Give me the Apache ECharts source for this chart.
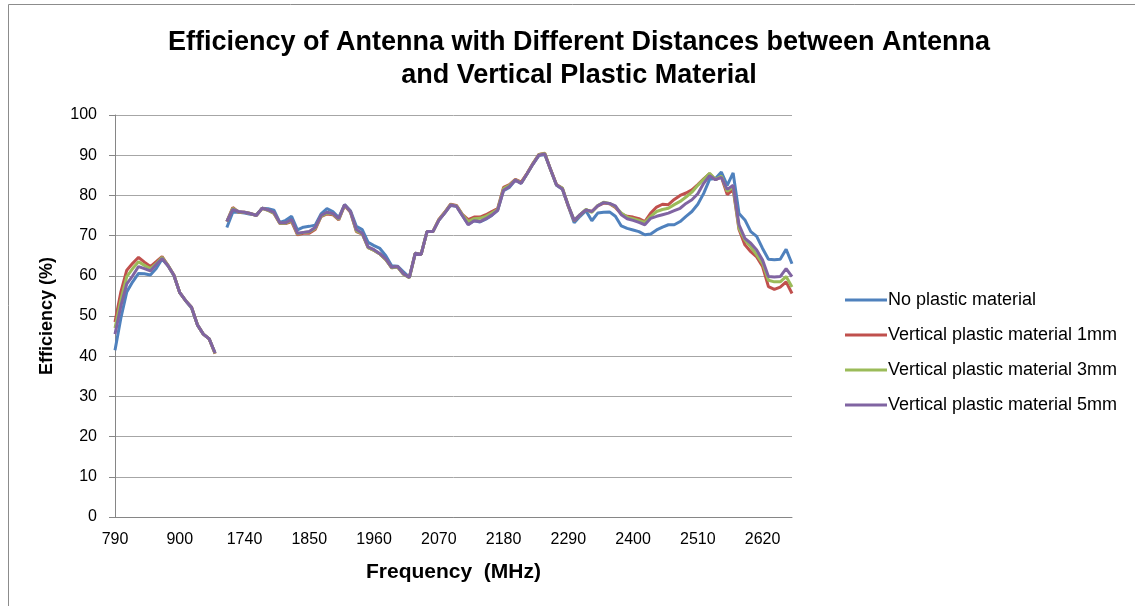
<!DOCTYPE html>
<html>
<head>
<meta charset="utf-8">
<script src="https://cdn.jsdelivr.net/npm/echarts@6/dist/echarts.min.js"></script>
<style>
  html, body { margin: 0; padding: 0; background: #fff; }
  #chart { width: 1135px; height: 606px; }
</style>
</head>
<body>
<div id="chart"></div>
<script>
// frequency categories (MHz); the empty one is the break between bands
const frequencies = [
    '790', '800', '810', '820', '830', '840', '850', '860', '870', '880', '890', '900',
    '910', '920', '930', '940', '950', '960', '',
    '1710', '1720', '1730', '1740', '1750', '1760', '1770', '1780', '1790', '1800',
    '1810', '1820', '1830', '1840', '1850', '1860', '1870', '1880', '1890', '1900',
    '1910', '1920', '1930', '1940', '1950', '1960', '1970', '1980', '1990', '2000',
    '2010', '2020', '2030', '2040', '2050', '2060', '2070', '2080', '2090', '2100',
    '2110', '2120', '2130', '2140', '2150', '2160', '2170', '2180', '2190', '2200',
    '2210', '2220', '2230', '2240', '2250', '2260', '2270', '2280', '2290', '2300',
    '2310', '2320', '2330', '2340', '2350', '2360', '2370', '2380', '2390', '2400',
    '2410', '2420', '2430', '2440', '2450', '2460', '2470', '2480', '2490', '2500',
    '2510', '2520', '2530', '2540', '2550', '2560', '2570', '2580', '2590', '2600',
    '2610', '2620', '2630', '2640', '2650', '2660', '2670'
];

const noPlastic = [
    41.5, 49.5, 56, 58.5, 60.6, 60.5, 60.2, 61.8, 64.2, 62.5, 60, 55.8,
    53.8, 52, 47.8, 45.5, 44.3, 40.8, null,
    72, 75.8, 75.8, 75.6, 75.3, 75.2, 76.8, 76.7, 76.3, 73.3,
    73.8, 74.8, 71.4, 72.1, 72.3, 72.6, 75.4, 76.7, 76, 74.5,
    77.7, 76.2, 72.3, 71.5, 68.3, 67.5, 66.8, 65, 62.5, 62.4,
    61, 59.6, 65.6, 65.3, 71, 71, 73.8, 75.6, 77.5, 77.3,
    75, 72.8, 73.7, 73.4, 74.1, 75, 76.3, 81.2, 82, 83.8,
    83, 85.4, 87.8, 89.9, 90.2, 86.4, 82.5, 81.5, 77.3, 73.2,
    74.8, 76.2, 73.7, 75.6, 75.8, 75.9, 74.8, 72.4, 71.8, 71.4,
    71, 70.2, 70.4, 71.4, 72.1, 72.7, 72.7, 73.5, 74.8, 76,
    77.8, 80.5, 84, 84.2, 85.8, 82.5, 85.6, 75.5, 73.9, 71,
    69.8, 66.8, 64.1, 64, 64.1, 66.6, 63
];

const plastic1mm = [
    48.5, 56, 61.4, 63.1, 64.6, 63.4, 62.3, 63.5, 64.8, 62.6, 60.2, 55.8,
    53.8, 52.2, 47.8, 45.5, 44.3, 40.6, null,
    73.5, 77, 75.8, 75.8, 75.5, 75, 76.8, 76.3, 75.5, 73,
    73, 73.5, 70.2, 70.6, 70.6, 71.5, 74.7, 75.4, 75.2, 73.9,
    77.5, 75.8, 71, 70.4, 67, 66.3, 65.4, 64, 62, 62.2,
    60.4, 59.6, 65.6, 65.3, 71, 71, 74, 75.8, 77.8, 77.5,
    75.3, 74, 74.6, 74.6, 75.2, 76, 76.7, 82, 82.7, 84,
    83.3, 85.5, 88, 90.2, 90.5, 86.4, 82.7, 81.8, 77.3, 73.7,
    75.2, 76.4, 76, 77.4, 78.1, 77.9, 77, 75.4, 74.8, 74.6,
    74.2, 73.5, 75.6, 77.1, 77.8, 77.7, 79, 80, 80.6, 81.4,
    82.7, 84.1, 85.4, 83.9, 84.6, 80.2, 81.5, 71.5, 67.7, 66,
    64.7, 62.3, 57.3, 56.6, 57.2, 58.5, 55.6
];

const plastic3mm = [
    47, 54, 59.8, 61.8, 63.5, 62.6, 61.8, 63, 64.6, 62.6, 60.2, 55.8,
    53.8, 52.2, 47.8, 45.5, 44.3, 40.7, null,
    73.5, 76.8, 75.9, 75.8, 75.5, 75, 76.8, 76.3, 75.6, 73.1,
    73.1, 73.8, 70.4, 70.8, 70.9, 71.8, 74.8, 75.6, 75.4, 74,
    77.6, 75.9, 71.2, 70.5, 67, 66.3, 65.4, 64, 62, 62.2,
    60.4, 59.5, 65.6, 65.3, 71, 71, 73.9, 75.7, 77.7, 77.4,
    75.2, 73.5, 74.2, 74.3, 74.8, 75.6, 76.5, 81.7, 82.5, 83.9,
    83.1, 85.4, 87.9, 90.1, 90.4, 86.4, 82.6, 81.8, 77.5, 73.8,
    75.2, 76.5, 75.8, 77.5, 78.3, 78, 77.2, 75.6, 74.6, 74.2,
    73.8, 73.3, 74.8, 76, 76.5, 76.8, 77.7, 78.5, 79.6, 80.8,
    82.5, 84, 85.5, 84, 84.8, 81, 82, 71.8, 68.9, 67.2,
    65.2, 63.1, 58.9, 58.5, 58.5, 59.8, 57.2
];

const plastic5mm = [
    45.5, 52.5, 58, 60, 62.3, 61.8, 61.2, 62.8, 64.3, 62.5, 60.2, 55.8,
    53.8, 52.2, 47.8, 45.5, 44.3, 40.8, null,
    73.5, 76.5, 76, 75.8, 75.5, 75, 76.8, 76.4, 75.8, 73.2,
    73.2, 74, 70.6, 70.8, 71, 72, 75, 75.8, 75.5, 74.2,
    77.7, 76, 71.5, 70.6, 67.2, 66.5, 65.5, 64.2, 62.1, 62.3,
    60.5, 59.6, 65.6, 65.3, 71, 71, 73.8, 75.6, 77.6, 77.3,
    75, 72.7, 73.7, 73.5, 74.2, 75.1, 76.3, 81.3, 82.2, 83.8,
    83, 85.4, 87.8, 90, 90.3, 86.4, 82.6, 81.6, 77.5, 73.8,
    75.2, 76.4, 76, 77.4, 78.2, 78, 77.4, 75.2, 74.2, 73.8,
    73.3, 72.7, 74.3, 74.8, 75.2, 75.6, 76.2, 76.8, 78, 78.9,
    80.4, 83, 84.9, 83.9, 84.5, 81.5, 82.5, 72.7, 69.3, 68.1,
    66.4, 63.9, 59.8, 59.7, 59.8, 61.8, 59.8
];

const seriesNames = [
    'No plastic material',
    'Vertical plastic material 1mm',
    'Vertical plastic material 3mm',
    'Vertical plastic material 5mm'
];
const seriesData = [noPlastic, plastic1mm, plastic3mm, plastic5mm];
const seriesColors = ['#4F81BD', '#C0504D', '#9BBB59', '#8064A2'];

const font = '"Liberation Sans", Arial, sans-serif';

const chart = echarts.init(document.getElementById('chart'));
chart.setOption({
    animation: false,
    color: seriesColors,
    graphic: [
        {
            type: 'rect',
            shape: { x: 8.5, y: 4.5, width: 1200, height: 700 },
            style: { fill: 'none', stroke: '#8c8c8c', lineWidth: 1 },
            silent: true
        }
    ],
    title: {
        text: 'Efficiency of Antenna with Different Distances between Antenna\nand Vertical Plastic Material',
        left: 574,
        top: 21,
        textAlign: 'center',
        textStyle: {
            fontFamily: font,
            fontSize: 27,
            fontWeight: 'bold',
            color: '#000',
            lineHeight: 33
        }
    },
    legend: {
        orient: 'vertical',
        left: 840,
        top: 284,
        itemWidth: 42,
        itemHeight: 3,
        itemGap: 13,
        icon: 'rect',
        data: seriesNames,
        textStyle: {
            fontFamily: font,
            fontSize: 18,
            color: '#000',
            lineHeight: 22,
            padding: [0, 0, 0, -4]
        }
    },
    grid: {
        left: 115,
        right: 343,
        top: 115,
        bottom: 89
    },
    xAxis: {
        type: 'category',
        data: frequencies,
        boundaryGap: false,
        name: 'Frequency  (MHz)',
        nameLocation: 'middle',
        nameGap: 45,
        nameTextStyle: {
            fontFamily: font,
            fontSize: 21,
            fontWeight: 'bold',
            color: '#000'
        },
        axisLine: { lineStyle: { color: '#868686', width: 1 } },
        axisTick: { show: false },
        axisLabel: {
            interval: 10,
            margin: 15,
            fontFamily: font,
            fontSize: 16,
            color: '#000'
        },
        splitLine: { show: false }
    },
    yAxis: {
        type: 'value',
        min: 0,
        max: 100,
        interval: 10,
        name: 'Efficiency (%)',
        nameLocation: 'middle',
        nameGap: 59,
        nameTextStyle: {
            fontFamily: font,
            fontSize: 18,
            fontWeight: 'bold',
            color: '#000'
        },
        axisLine: { show: true, lineStyle: { color: '#868686', width: 1 } },
        axisTick: { show: true, length: 6, lineStyle: { color: '#868686' } },
        axisLabel: {
            margin: 18,
            fontFamily: font,
            fontSize: 16,
            color: '#000'
        },
        splitLine: { lineStyle: { color: '#a6a6a6', width: 1 } }
    },
    series: seriesNames.map((name, i) => ({
        name: name,
        type: 'line',
        data: seriesData[i],
        showSymbol: false,
        symbol: 'none',
        connectNulls: false,
        lineStyle: { width: 3, color: seriesColors[i] },
        z: 2 + i
    }))
});
</script>
</body>
</html>
